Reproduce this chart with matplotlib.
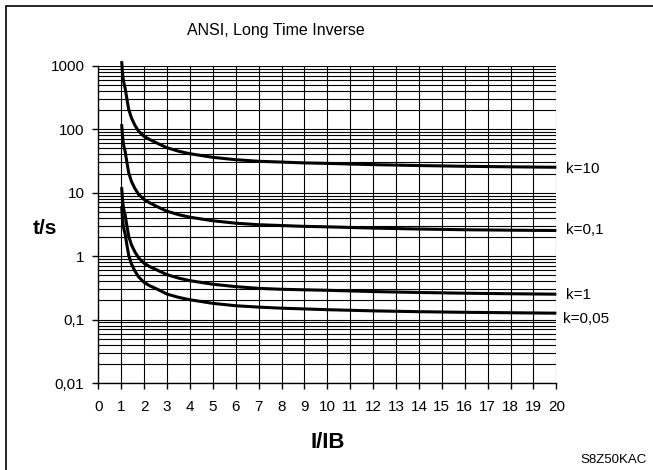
import numpy as np
import matplotlib
matplotlib.use("Agg")
import matplotlib.pyplot as plt
from matplotlib.ticker import FixedLocator, NullFormatter
from matplotlib.patches import Rectangle

plt.rcParams['font.family'] = ['Liberation Sans', 'DejaVu Sans']

# Current multiple I/IB
multiple = [1.02, 1.05, 1.08, 1.12, 1.17, 1.25, 1.33, 1.45, 1.6, 1.76, 2, 2.25,
            2.5, 2.75, 3, 3.5, 4, 5, 6, 7, 8, 9, 10, 12, 14, 16, 18, 20]

# Trip times in seconds for each time multiplier setting
t_k10 = [1180, 850, 645, 530, 447, 300, 204, 150, 115, 93, 77, 68.5,
         62, 56, 51, 45, 41, 36, 33, 31.2, 30.3, 29.4, 28.9, 27.6, 26.7, 26.0, 25.5, 25.1]
t_k01 = [120, 86, 65, 53, 45, 30, 20.5, 15, 11.6, 9.4, 7.8, 6.9,
         6.2, 5.6, 5.1, 4.5, 4.1, 3.6, 3.3, 3.12, 3.03, 2.94, 2.89, 2.76, 2.67, 2.6, 2.56, 2.53]
t_k1 = [12.2, 8.6, 6.5, 5.3, 4.5, 3.0, 2.05, 1.5, 1.16, 0.94, 0.77, 0.68,
        0.62, 0.56, 0.51, 0.45, 0.41, 0.36, 0.33, 0.31, 0.30, 0.294, 0.289, 0.276, 0.267, 0.26, 0.255, 0.251]
t_k005 = [6.1, 4.3, 3.25, 2.65, 2.25, 1.5, 1.02, 0.75, 0.58, 0.47, 0.385, 0.34,
          0.31, 0.28, 0.252, 0.224, 0.205, 0.18, 0.165, 0.157, 0.151, 0.147, 0.143, 0.137, 0.133, 0.13, 0.128, 0.126]

curve_labels = ["k=10", "k=0,1", "k=1", "k=0,05"]
label_pos = [(20.42, 23.7), (20.42, 2.6), (20.42, 0.248), (20.28, 0.1025)]

x_ticks = list(range(0, 21))
y_ticks = [0.01, 0.1, 1, 10, 100, 1000]
y_tick_labels = ["0,01", "0,1", "1", "10", "100", "1000"]

fig = plt.figure(figsize=(6.53, 4.70), dpi=100)
ax = fig.add_axes([0.1505, 0.1851, 0.7015, 0.6751])

ax.set_yscale('log')
ax.set_xlim(0, 20)
ax.set_ylim(0.01, 1000)

# Millimetre-paper style grid
minor_vals = [m * 10.0 ** e for e in range(-2, 3) for m in range(2, 10)]
for v in minor_vals + y_ticks:
    ax.axhline(v, color='black', lw=0.8, zorder=1)
for xv in range(1, 21):
    ax.axvline(xv, color='black', lw=0.8, zorder=1)

for series in (t_k10, t_k01, t_k1, t_k005):
    ax.plot(multiple, series, color='black', lw=2.2, zorder=3,
            clip_on=False, solid_capstyle='butt', solid_joinstyle='round')

for text, (lx, ly) in zip(curve_labels, label_pos):
    ax.text(lx, ly, text, fontsize=11, ha='left', va='center')

ax.xaxis.set_major_locator(FixedLocator(x_ticks))
ax.set_xticklabels([str(v) for v in x_ticks])
ax.yaxis.set_major_locator(FixedLocator(y_ticks))
ax.set_yticklabels(y_tick_labels)
ax.yaxis.set_minor_locator(FixedLocator([]))
ax.yaxis.set_minor_formatter(NullFormatter())

ax.tick_params(axis='x', direction='out', length=4, width=1, pad=8, labelsize=11)
ax.tick_params(axis='y', direction='out', length=4, width=1, pad=6, labelsize=11)

for s in ('top', 'right'):
    ax.spines[s].set_visible(False)
for s in ('left', 'bottom'):
    ax.spines[s].set_linewidth(1.0)

fig.text(276 / 653, 1 - 30 / 470, "ANSI, Long Time Inverse", fontsize=11.5,
         ha='center', va='center')
fig.text(45 / 653, 1 - 228 / 470, "t/s", fontsize=15, fontweight='bold',
         ha='center', va='center')
fig.text(328 / 653, 1 - 443 / 470, "I/IB", fontsize=16, fontweight='bold',
         ha='center', va='center')
fig.text(647 / 653, 1 - 460 / 470, "S8Z50KAC", fontsize=9.5,
         ha='right', va='center')

# Outer frame
fig.patches.append(Rectangle((6 / 653, -0.1), 1.2, 1 - 5.5 / 470 + 0.1,
                             transform=fig.transFigure, fill=False,
                             edgecolor='black', lw=1.2))

fig.savefig("out.png", dpi=100)
